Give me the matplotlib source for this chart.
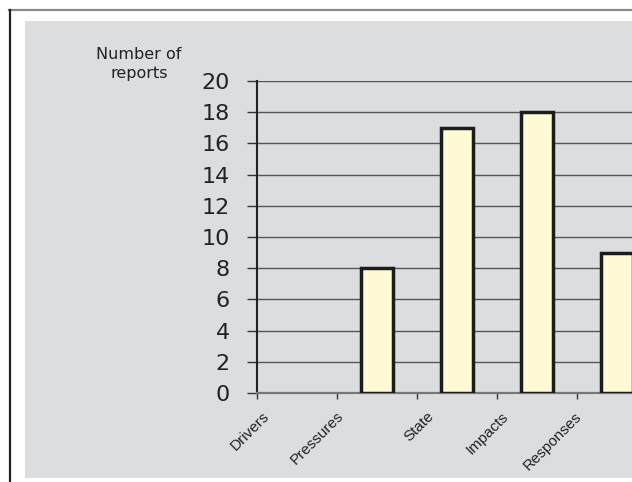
import matplotlib
matplotlib.use("Agg")
import matplotlib.pyplot as plt
from matplotlib.patches import Rectangle
from matplotlib.lines import Line2D
import matplotlib.transforms as mtransforms

categories = ["Drivers", "Pressures", "State", "Impacts", "Responses"]
values = [0, 8, 17, 18, 9]
yticks = [0, 2, 4, 6, 8, 10, 12, 14, 16, 18, 20]

W, H = 632, 482
fig = plt.figure(figsize=(W / 100, H / 100), dpi=100)
fig.patch.set_facecolor("white")

# gray panel
fig.patches.append(Rectangle((25 / W, 1 - 478 / H), (W - 25) / W, (478 - 21) / H,
                             transform=fig.transFigure, facecolor="#DCDDDF",
                             edgecolor="none", zorder=-10))
# outer frame lines
fig.lines.append(Line2D([9 / W, 1], [1 - 10 / H, 1 - 10 / H], transform=fig.transFigure,
                        color="#8a8a8a", lw=1.6, zorder=-5))
fig.lines.append(Line2D([9.5 / W, 9.5 / W], [1 - 10 / H, 0], transform=fig.transFigure,
                        color="#222222", lw=1.6, zorder=-5))

ax = fig.add_axes([257 / W, 1 - 393 / H, (W - 257) / W, (393 - 81) / H])
ax.set_zorder(1)
ax.set_facecolor("none")
ax.set_xlim(0, (W - 257) / 80)
ax.set_ylim(0, 20)

ax.set_axisbelow(True)
ax.yaxis.grid(True, color="#555555", lw=1.0)
ax.set_yticks(yticks)
ax.set_yticklabels([str(v) for v in yticks], fontsize=16, color="#222222",
                   family="DejaVu Sans")
ax.tick_params(axis="y", length=7.5, width=1.0, color="#333333", pad=12)

ax.set_xticks(range(len(categories)))
ax.set_xticklabels([""] * len(categories))
ax.tick_params(axis="x", length=4, width=1.0, color="#333333", direction="out")

for s in ["top", "right"]:
    ax.spines[s].set_visible(False)
ax.spines["left"].set_color("#222222")
ax.spines["left"].set_linewidth(1.5)
ax.spines["bottom"].set_color("#777777")
ax.spines["bottom"].set_linewidth(1.6)

pos = [i + 0.5 for i, v in enumerate(values) if v > 0]
vals = [v for v in values if v > 0]
ax.bar(pos, vals, width=0.4, color="#FFFAD6", edgecolor="#1c1c1c", linewidth=2.5,
       zorder=3)

# category labels (rotated)
label_shift = [0.13, 0.05, 0.18, 0.115, 0.03]
for i, (lab, dx) in enumerate(zip(categories, label_shift)):
    trans = ax.get_xaxis_transform() + mtransforms.ScaledTranslation(0, -21 / 100, fig.dpi_scale_trans)
    ax.text(i + dx, 0, lab, rotation=45, rotation_mode="anchor", ha="right", va="center",
            fontsize=11, family="Liberation Sans", color="#222222", transform=trans)

fig.text(139 / W, 1 - 64 / H, "Number of\nreports", ha="center", va="center",
         fontsize=11.5, family="DejaVu Sans", color="#222222", linespacing=1.3)

fig.savefig("out.png", dpi=100)
